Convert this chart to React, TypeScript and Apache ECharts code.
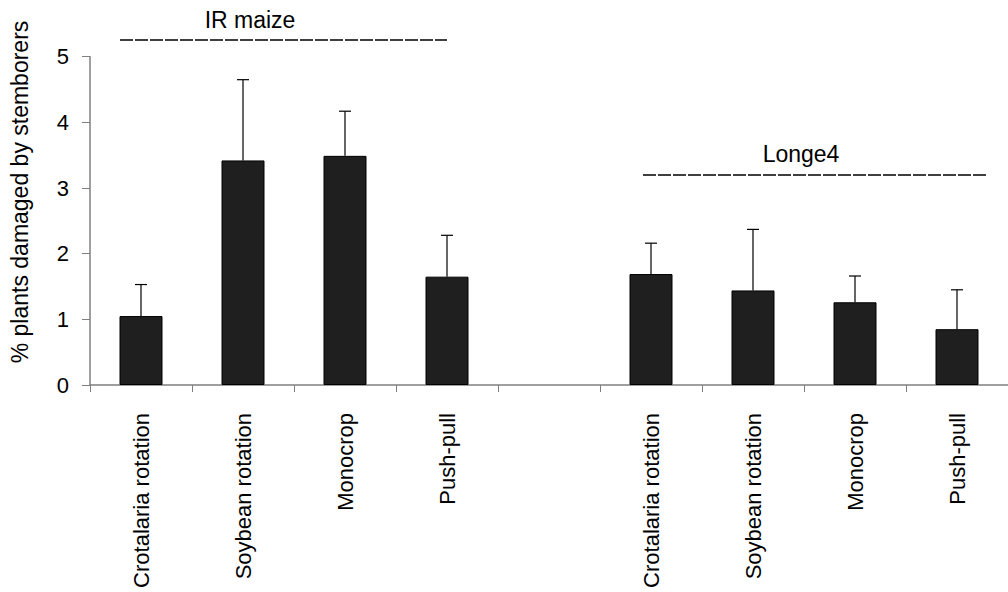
import React, { useEffect, useRef } from "react";
import * as echarts from "echarts";

const categories = [
  "Crotalaria rotation",
  "Soybean rotation",
  "Monocrop",
  "Push-pull",
  "",
  "Crotalaria rotation",
  "Soybean rotation",
  "Monocrop",
  "Push-pull",
];
const means: (number | string)[] = [1.05, 3.42, 3.49, 1.65, "-", 1.69, 1.44, 1.26, 0.85];
const upper: (number | null)[] = [1.53, 4.65, 4.17, 2.28, null, 2.16, 2.37, 1.66, 1.45];
const yTicks = [0, 1, 2, 3, 4, 5];
const groupLabels = ["IR maize", "Longe4"];
const yName = "% plants damaged by stemborers";

export default function App() {
  const ref = useRef<HTMLDivElement>(null);
  useEffect(() => {
    if (!ref.current) return;
    const chart = echarts.init(ref.current, null, { renderer: "svg" });
    const errData: any[] = [];
    upper.forEach((u, i) => {
      if (u !== null) errData.push([i, means[i], u]);
    });
    const font = "'Liberation Sans', Arial, sans-serif";
    chart.setOption({
      animation: false,
      backgroundColor: "#ffffff",
      grid: { left: 90, top: 56.7, height: 328.3, width: 929, containLabel: false },
      xAxis: {
        type: "category",
        data: categories,
        boundaryGap: true,
        axisLine: { lineStyle: { color: "#7f7f7f", width: 1.5 } },
        axisTick: { show: true, length: 7, alignWithLabel: false, lineStyle: { color: "#7f7f7f" } },
        axisLabel: {
          rotate: 90,
          interval: 0,
          margin: 28,
          color: "#000",
          fontSize: 22,
          fontFamily: font,
        },
        splitLine: { show: false },
      },
      yAxis: {
        type: "value",
        min: yTicks[0],
        max: yTicks[yTicks.length - 1],
        interval: 1,
        axisLine: { show: true, lineStyle: { color: "#7f7f7f", width: 1.5 } },
        axisTick: { show: true, length: 8, lineStyle: { color: "#7f7f7f" } },
        axisLabel: { color: "#000", fontSize: 22, fontFamily: font, margin: 21 },
        splitLine: { show: false },
      },
      series: [
        {
          type: "bar",
          data: means,
          barWidth: 43,
          itemStyle: { color: "#1f1f1f", borderColor: "#000", borderWidth: 1 },
          z: 2,
        },
        {
          type: "custom",
          data: errData,
          encode: { x: 0, y: 2 },
          z: 3,
          renderItem: (params: any, api: any) => {
            const x = api.value(0);
            const base = api.coord([x, api.value(1)]);
            const top = api.coord([x, api.value(2)]);
            const half = 6;
            return {
              type: "group",
              children: [
                {
                  type: "line",
                  shape: { x1: base[0], y1: base[1], x2: top[0], y2: top[1] },
                  style: { stroke: "#000", lineWidth: 1.2 },
                },
                {
                  type: "line",
                  shape: { x1: top[0] - half, y1: top[1], x2: top[0] + half, y2: top[1] },
                  style: { stroke: "#000", lineWidth: 1.2 },
                },
              ],
            };
          },
        },
      ],
      graphic: [
        {
          type: "text",
          x: 20,
          y: 192,
          rotation: Math.PI / 2,
          style: {
            text: yName,
            fill: "#000",
            font: `23px ${font}`,
            align: "center",
            verticalAlign: "middle",
          },
        },
        {
          type: "text",
          x: 250,
          y: 20,
          style: {
            text: groupLabels[0],
            fill: "#000",
            font: `23px ${font}`,
            align: "center",
            verticalAlign: "middle",
          },
        },
        {
          type: "line",
          shape: { x1: 120, y1: 40, x2: 447, y2: 40 },
          style: { stroke: "#000", lineWidth: 1.3, lineDash: [13, 2] },
        },
        {
          type: "text",
          x: 801,
          y: 154,
          style: {
            text: groupLabels[1],
            fill: "#000",
            font: `23px ${font}`,
            align: "center",
            verticalAlign: "middle",
          },
        },
        {
          type: "line",
          shape: { x1: 643, y1: 175, x2: 988, y2: 175 },
          style: { stroke: "#000", lineWidth: 1.3, lineDash: [13, 2] },
        },
      ],
    });
    return () => chart.dispose();
  }, []);
  return (
    <div
      ref={ref}
      style={{ position: "fixed", left: 0, top: 0, width: 1008, height: 592, background: "#fff" }}
    />
  );
}
